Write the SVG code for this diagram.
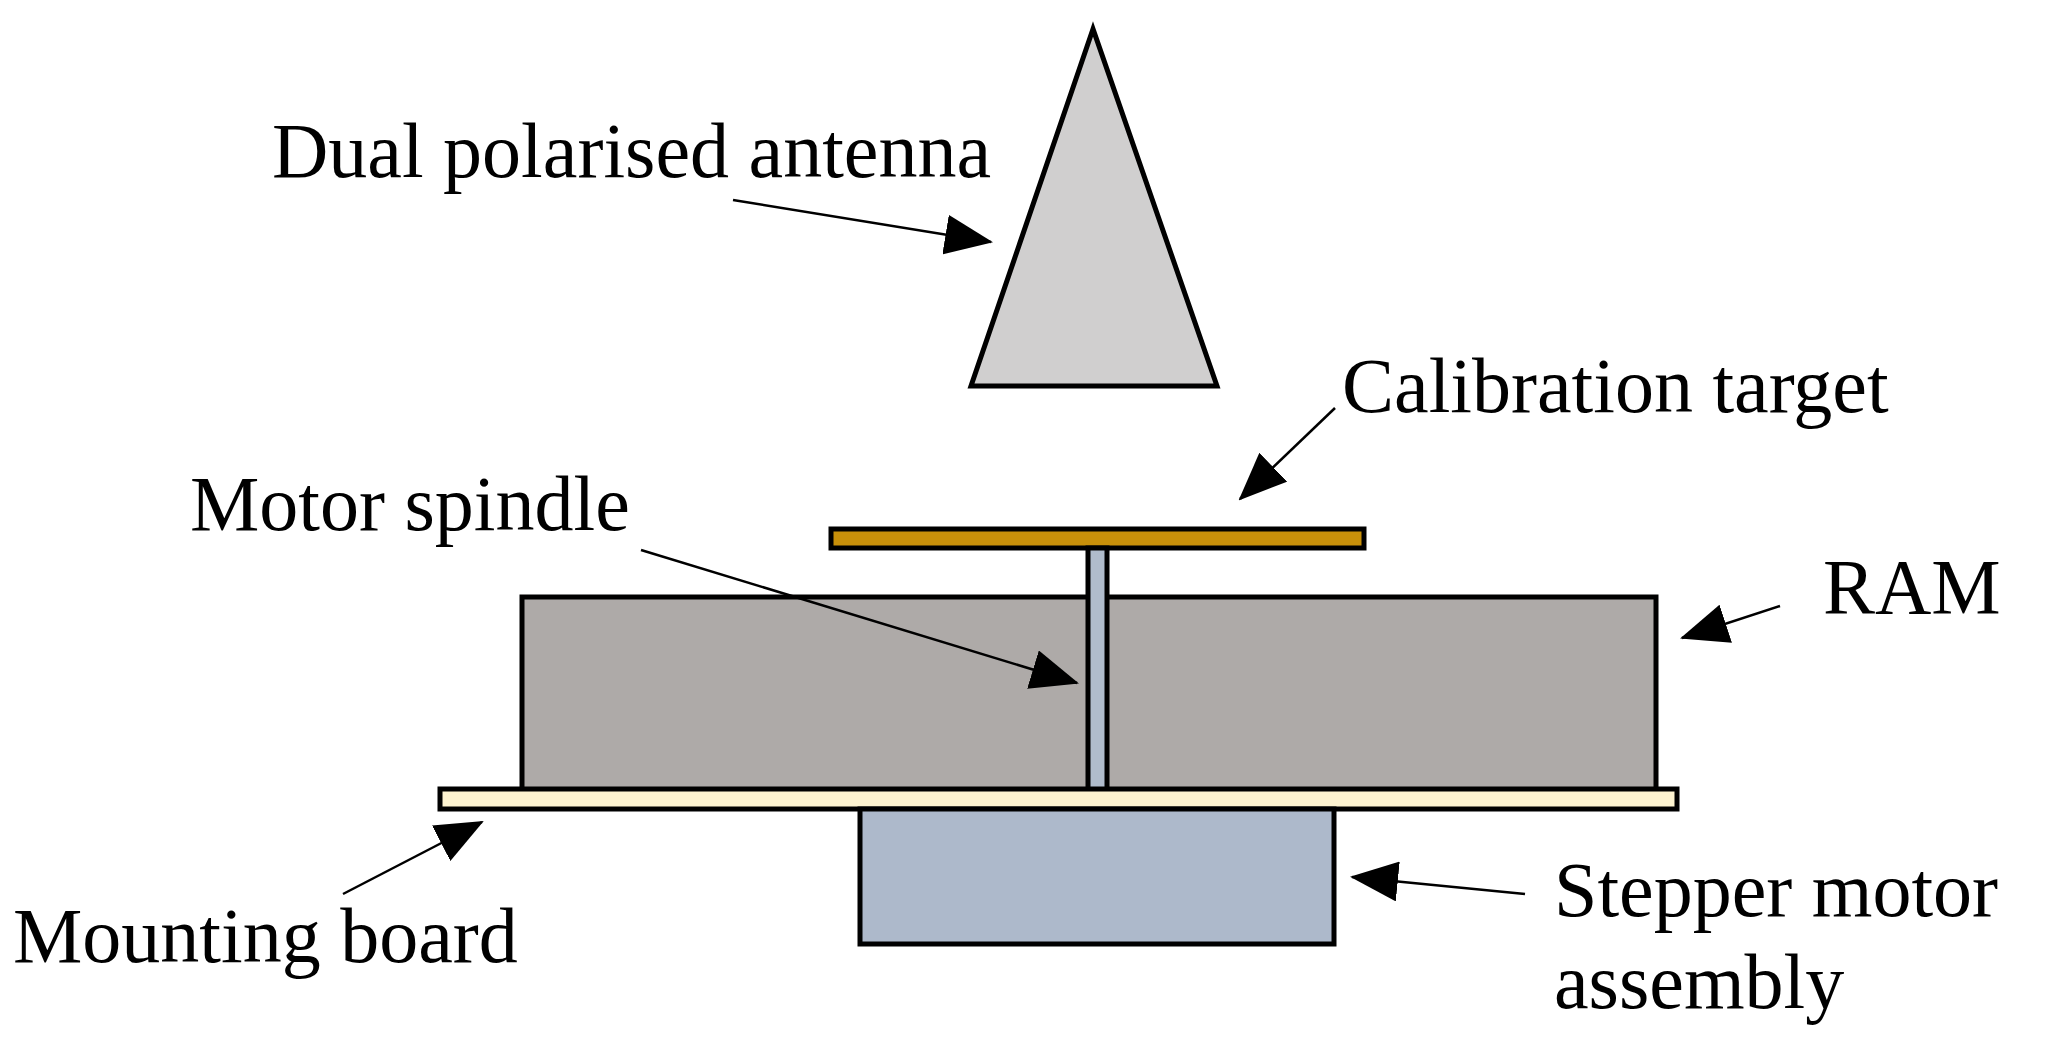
<svg xmlns="http://www.w3.org/2000/svg" width="2053" height="1050" viewBox="0 0 2053 1050">
<style>
text{font-family:"Liberation Serif","Times New Roman",serif;font-size:78px;fill:#000}
.s{stroke:#000;stroke-width:5}
.c{stroke:#000;stroke-width:2.5;fill:none}
</style>
<defs>
<marker id="A" markerWidth="48" markerHeight="40" refX="46" refY="20" orient="auto" markerUnits="userSpaceOnUse" viewBox="0 0 48 40"><path d="M0,0 L48,20 L0,40 z" fill="#000"/></marker></defs>
<rect width="2053" height="1050" fill="#fff"/>
<g id="antenna"><polygon class="s" points="1093,29 971,386 1217,386" fill="#d0cfcf"/><text x="272" y="177">Dual polarised antenna</text></g>
<g id="ram"><rect class="s" x="522" y="597" width="1134" height="194" fill="#aeaaa8"/><text x="1823" y="613">RAM</text></g>
<g id="target"><rect class="s" x="831" y="529" width="533" height="19" fill="#c8900a"/><text x="1342" y="412">Calibration target</text></g>
<g id="spindle"><rect class="s" x="1088" y="548" width="19" height="243" fill="#b0bccc"/><text x="190" y="530">Motor spindle</text></g>
<g id="board"><rect class="s" x="440" y="789" width="1237" height="20" fill="#fdf3d0"/><text x="13" y="962">Mounting board</text></g>
<g id="stepper"><rect class="s" x="860" y="809" width="474" height="135" fill="#adb9cb"/><text x="1554" y="916">Stepper motor</text><text x="1554" y="1008">assembly</text></g>
<g id="connectors">
<line class="c" x1="733" y1="200" x2="991" y2="242" marker-end="url(#A)"/>
<line class="c" x1="1335" y1="408" x2="1240" y2="499" marker-end="url(#A)"/>
<line class="c" x1="641" y1="550" x2="1077" y2="683" marker-end="url(#A)"/>
<line class="c" x1="1780" y1="606" x2="1682" y2="638" marker-end="url(#A)"/>
<line class="c" x1="343" y1="894" x2="482" y2="822" marker-end="url(#A)"/>
<line class="c" x1="1525" y1="894" x2="1352" y2="877" marker-end="url(#A)"/>
</g>
</svg>
